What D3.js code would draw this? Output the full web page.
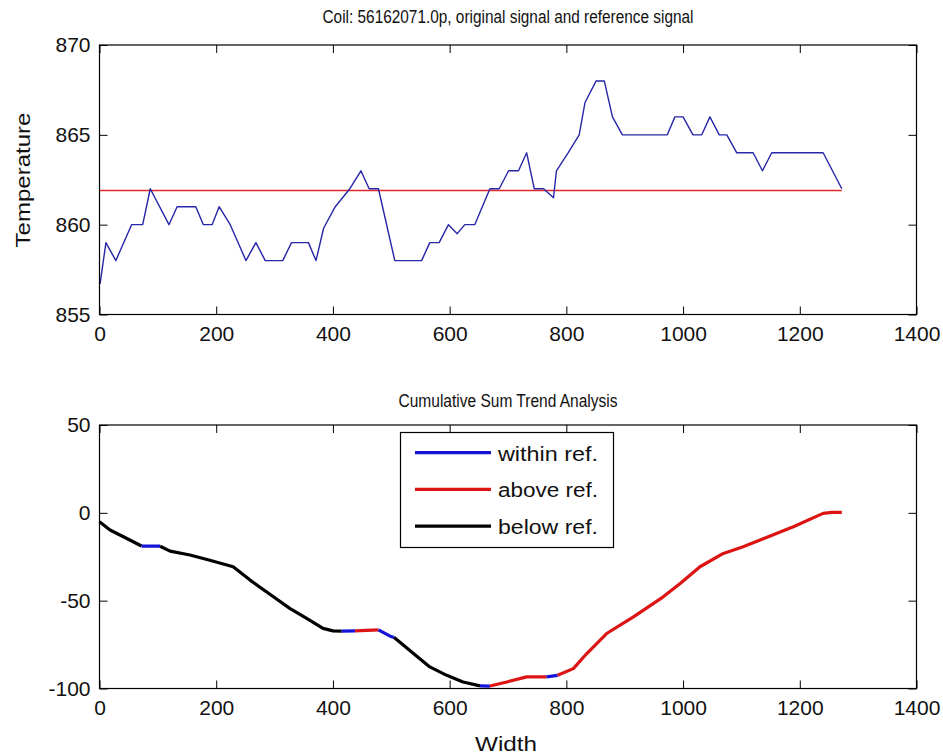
<!DOCTYPE html>
<html>
<head>
<meta charset="utf-8">
<script src="https://cdn.jsdelivr.net/npm/d3@7"></script>
<style>
  body { margin: 0; background: #fff; }
  svg text { font-family: "Liberation Sans", Arial, sans-serif; fill: #111; }
</style>
</head>
<body>
<svg id="fig" width="943" height="755"></svg>
<script>
// ######## data ########
// top plot: original signal (blue) and reference (red)
var sigX = [1, 11, 28, 55, 74, 87, 119, 133, 165, 178, 193, 205, 224, 251, 268, 284, 314, 329, 358, 371,
            384, 404, 429, 448, 462, 478, 506, 552, 566, 582, 598, 613, 626, 643, 669, 685, 701, 718, 732,
            745, 761, 778, 783, 803, 822, 832, 851, 865, 879, 896, 973, 986, 1000, 1017, 1032, 1046, 1062,
            1075, 1092, 1120, 1136, 1152, 1240, 1272];
var sigY = [856.7, 859, 858, 860, 860, 862, 860, 861, 861, 860, 860, 861, 860, 858, 859, 858, 858, 859, 859, 858,
            859.8, 861, 862, 863, 862, 862, 858, 858, 859, 859, 860, 859.5, 860, 860, 862, 862, 863, 863, 864,
            862, 862, 861.5, 863, 864, 865, 866.8, 868, 868, 866, 865, 865, 866, 866, 865, 865, 866, 865,
            865, 864, 864, 863, 864, 864, 862];
var refLevel = 861.9;
var refRange = [0, 1272];

// bottom plot: cumulative sum and the state of each point
var cumX = [0, 18, 41, 72, 104, 121, 155, 189, 229, 258, 298, 326, 355, 383, 400, 415, 438, 478, 498, 505,
            538, 566, 595, 623, 652, 669, 698, 732, 766, 785, 812, 835, 869, 915, 966, 995, 1029, 1069,
            1103, 1132, 1189, 1240, 1255, 1272];
var cumY = [-5.1, -9.8, -13.6, -18.9, -19, -21.8, -24, -27, -30.7, -38.3, -47.8, -54.4, -60.1, -65.8, -67.2,
            -67.3, -67.2, -66.6, -70.2, -71, -80.1, -87.7, -92.5, -96.3, -98.5, -98.6, -96.3, -93.4, -93.4,
            -92.5, -88.7, -80.1, -68.7, -59.2, -47.8, -40.2, -30.7, -23.1, -19.3, -15.5, -7.9, -0.3, 0.3, 0.3];
var cumState = ["below", "below", "below", "below", "within", "below", "below", "below", "below", "below",
                "below", "below", "below", "below", "below", "below", "within", "above", "within", "within",
                "below", "below", "below", "below", "below", "within", "above", "above", "above", "within",
                "above", "above", "above", "above", "above", "above", "above", "above", "above", "above",
                "above", "above", "above", "above"];

var legendNames = ["within ref.", "above ref.", "below ref."];
var legendKeys = ["within", "above", "below"];

var xTicks = [0, 200, 400, 600, 800, 1000, 1200, 1400];
var topYTicks = [855, 860, 865, 870];
var botYTicks = [-100, -50, 0, 50];

var stateColor = { within: "#1414d8", above: "#dc1414", below: "#000000" };

// ######## layout ########
var svg = d3.select("#fig");
var x = d3.scaleLinear().domain([0, 1400]).range([99.5, 916.5]);
var yTop = d3.scaleLinear().domain([855, 870]).range([314.5, 45]);
var yBot = d3.scaleLinear().domain([-100, 50]).range([688.5, 425]);

// plain numbers, ascii minus like the original
var plain = function(d) { return String(d); };

function drawAxes(y, yTicks) {
    var y0 = y.range()[0], y1 = y.range()[1];
    var x0 = x.range()[0], x1 = x.range()[1];
    var g = svg.append("g");

    g.append("g").attr("transform", "translate(0," + y0 + ")")
        .call(d3.axisBottom(x).tickValues(xTicks).tickFormat(plain).tickSize(-8).tickSizeOuter(0).tickPadding(12));
    g.append("g").attr("transform", "translate(0," + y1 + ")")
        .call(d3.axisTop(x).tickValues(xTicks).tickSize(-8).tickSizeOuter(0).tickFormat(""));
    g.append("g").attr("transform", "translate(" + x0 + ",0)")
        .call(d3.axisLeft(y).tickValues(yTicks).tickFormat(plain).tickSize(-8).tickSizeOuter(0).tickPadding(9));
    g.append("g").attr("transform", "translate(" + x1 + ",0)")
        .call(d3.axisRight(y).tickValues(yTicks).tickSize(-8).tickSizeOuter(0).tickFormat(""));

    g.selectAll(".domain").remove();
    g.selectAll(".tick line").attr("stroke", "#000");
    g.selectAll(".tick text").attr("font-size", 21).attr("font-family", "Liberation Sans, Arial, sans-serif")
        .attr("fill", "#111");

    g.append("rect").attr("x", x0).attr("y", y1).attr("width", x1 - x0).attr("height", y0 - y1)
        .attr("fill", "none").attr("stroke", "#000").attr("stroke-width", 1.2);
    return g;
}

// ######## top plot ########
var topData = sigX.map(function(d, i) { return [d, sigY[i]]; });
var topLine = d3.line().x(function(d) { return x(d[0]); }).y(function(d) { return yTop(d[1]); });

svg.append("path").datum(refRange.map(function(d) { return [d, refLevel]; }))
    .attr("d", topLine).attr("fill", "none").attr("stroke", "#e0282a").attr("stroke-width", 1.5);
svg.append("path").datum(topData)
    .attr("d", topLine).attr("fill", "none").attr("stroke", "#2626a8").attr("stroke-width", 1.4)
    .attr("stroke-linejoin", "round");
drawAxes(yTop, topYTicks);

svg.append("text").attr("x", 508).attr("y", 23).attr("text-anchor", "middle")
    .attr("font-size", 17.5).attr("textLength", 371).attr("lengthAdjust", "spacingAndGlyphs")
    .text("Coil: 56162071.0p, original signal and reference signal");
svg.append("text").attr("transform", "translate(30,180) rotate(-90)").attr("text-anchor", "middle")
    .attr("font-size", 20).attr("textLength", 135).attr("lengthAdjust", "spacingAndGlyphs")
    .text("Temperature");

// ######## bottom plot ########
// split the cumulative sum into runs of the same state
var runs = [];
for (var i = 1; i < cumX.length; i++) {
    var p = [cumX[i], cumY[i]];
    var last = runs[runs.length - 1];
    if (last && last.state === cumState[i]) {
        last.pts.push(p);
    } else {
        runs.push({ state: cumState[i], pts: [[cumX[i - 1], cumY[i - 1]], p] });
    }
}
var botLine = d3.line().x(function(d) { return x(d[0]); }).y(function(d) { return yBot(d[1]); });
svg.append("g").selectAll("path").data(runs).join("path")
    .attr("d", function(d) { return botLine(d.pts); })
    .attr("fill", "none")
    .attr("stroke", function(d) { return stateColor[d.state]; })
    .attr("stroke-width", 3.2)
    .attr("stroke-linejoin", "round")
    .attr("stroke-linecap", "butt");
drawAxes(yBot, botYTicks);

svg.append("text").attr("x", 508).attr("y", 407).attr("text-anchor", "middle")
    .attr("font-size", 17.5).attr("textLength", 219).attr("lengthAdjust", "spacingAndGlyphs")
    .text("Cumulative Sum Trend Analysis");
svg.append("text").attr("x", 506).attr("y", 751).attr("text-anchor", "middle")
    .attr("font-size", 20).attr("textLength", 62).attr("lengthAdjust", "spacingAndGlyphs").text("Width");

// legend
var legend = svg.append("g");
legend.append("rect").attr("x", 400.5).attr("y", 432.5).attr("width", 213).attr("height", 115)
    .attr("fill", "#fff").attr("stroke", "#000").attr("stroke-width", 1.2);
var rows = legend.selectAll("g.row").data(legendKeys).join("g").attr("class", "row")
    .attr("transform", function(d, i) { return "translate(0," + (452.7 + i * 36.7) + ")"; });
rows.append("line").attr("x1", 415).attr("x2", 491)
    .attr("stroke", function(d) { return stateColor[d]; }).attr("stroke-width", 3.2);
rows.append("text").attr("x", 498).attr("y", 8).attr("font-size", 20)
    .attr("textLength", 100).attr("lengthAdjust", "spacingAndGlyphs")
    .text(function(d, i) { return legendNames[i]; });
</script>
</body>
</html>
